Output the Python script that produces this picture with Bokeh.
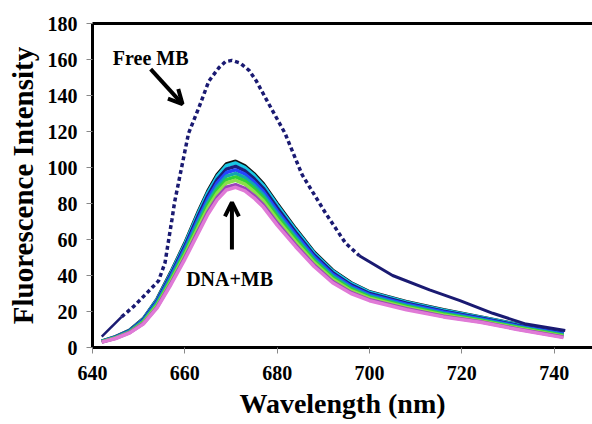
from bokeh.plotting import figure
from bokeh.models import (Range1d, LinearAxis, FixedTicker, Arrow, OpenHead,
                          Label)
from bokeh.embed import file_html
from bokeh.resources import INLINE

# ---------------- data ----------------
free_x = [642, 646.3, 649, 651.3, 654.3, 655.7, 657.2, 657.8, 660.8, 663, 665.2,
          667.4, 668.8, 670.2, 672, 673.9, 675.5, 677.4, 681.7, 685.4, 690.4,
          694.8, 697.8, 705, 713, 719.6, 726.7, 733.9, 742.4]
free_y = [6, 17, 23, 29, 37, 47, 71, 81, 119, 133, 148, 155.5, 158.8, 159.5,
          158, 154, 148, 139, 119, 96, 75, 58, 51, 40, 32, 26, 19, 13, 9.5]

dna_x = [642, 645, 648, 651, 654, 657, 660, 663, 665, 667, 669, 671, 673, 675,
         677, 680, 684, 688, 692, 696, 700, 708, 716, 724, 732, 742]
dna_1 = [3.5, 6, 9.5, 16, 27, 42, 58, 76, 87, 96, 102, 103.5, 101, 96.5, 91, 80,
         66, 53, 43, 36, 31, 25.5, 21, 17, 13, 8.5]
dna_2 = [3.5, 5.9, 9.4, 15.8, 26.7, 41.5, 57.4, 75.2, 86.1, 95, 101, 102.5, 100,
         95.6, 90.1, 79.2, 65.3, 52.4, 42.5, 35.6, 30.7, 25.2, 20.7, 16.8, 12.8,
         8.3]
dna_3 = [3.4, 5.8, 9.2, 15.4, 26, 40.6, 56.2, 73.6, 84.4, 93.2, 99.1, 100.6,
         98.2, 93.8, 88.4, 77.6, 64, 51.4, 41.6, 34.8, 30, 24.6, 20.2, 16.4,
         12.4, 7.9]
dna_4 = [3.3, 5.7, 9, 15, 25.4, 39.7, 55, 72, 82.7, 91.4, 97.2, 98.7, 96.4, 92,
         86.7, 76, 62.7, 50.4, 40.7, 34, 29.4, 24, 19.7, 16, 12, 7.5]
dna_5 = [3.3, 5.5, 8.8, 14.6, 24.7, 38.7, 53.8, 70.4, 80.9, 89.4, 95.2, 96.7,
         94.4, 90.2, 84.9, 74.4, 61.3, 49.2, 39.7, 33.2, 28.7, 23.4, 19.1, 15.6,
         11.6, 7.1]
dna_6 = [3.2, 5.4, 8.6, 14.2, 24, 37.8, 52.6, 68.8, 79.2, 87.6, 93.3, 94.8,
         92.6, 88.4, 83.2, 72.8, 60, 48.2, 38.8, 32.4, 28, 22.8, 18.6, 15.2,
         11.2, 6.7]
dna_7 = [3.1, 5.3, 8.4, 13.8, 23.4, 36.9, 51.4, 67.2, 77.5, 85.8, 91.4, 92.9,
         90.8, 86.6, 81.5, 71.2, 58.7, 47.2, 37.9, 31.6, 27.4, 22.2, 18.1, 14.8,
         10.8, 6.3]
dna_8 = [3, 5.1, 8.2, 13.3, 22.5, 35.7, 49.9, 65.2, 75.3, 83.4, 89, 90.5, 88.4,
         84.4, 79.3, 69.2, 57, 45.8, 36.7, 30.6, 26.5, 21.5, 17.4, 14.3, 10.3,
         5.8]
dna_9 = [3, 5, 8, 13, 22, 35, 49, 64, 74, 82, 87.5, 89, 87, 83, 78, 68, 56, 45,
         36, 30, 26, 21, 17, 14, 10, 5.5]
dna_series = [dna_1, dna_2, dna_3, dna_4, dna_5, dna_6, dna_7, dna_8, dna_9]
dna_colors = ["#111111", "#19c8e6", "#1b1f7a", "#2446ff", "#12a6b0",
              "#2fd03a", "#8ae04a", "#9a46b8", "#e07ad6"]

x_ticks = [640, 660, 680, 700, 720, 740]
y_ticks = [0, 20, 40, 60, 80, 100, 120, 140, 160, 180]

FONT = "Liberation Serif"

p = figure(width=592, height=424, output_backend="svg", toolbar_location=None,
           x_range=Range1d(640, 748.3), y_range=Range1d(0, 180),
           min_border_left=92, min_border_right=0, min_border_top=23,
           min_border_bottom=77)
p.outline_line_color = None
p.grid.visible = False
p.background_fill_color = "white"
p.border_fill_color = "white"

for ys, c in zip(dna_series, dna_colors):
    p.line(dna_x, ys, line_color=c, line_width=3.5)

# Free MB: solid start, dashed middle, solid tail
free_col = "#1a1a72"
p.line(free_x[:2], free_y[:2], line_color=free_col, line_width=2.5)
p.line(free_x[1:23], free_y[1:23], line_color=free_col, line_width=3.5,
       line_dash="4 3")
p.line(free_x[22:], free_y[22:], line_color=free_col, line_width=3)

for ax in (p.xaxis[0], p.yaxis[0]):
    ax.axis_line_width = 3
    ax.axis_line_color = "black"
    ax.major_tick_line_color = "#888888"
    ax.major_tick_line_width = 1
    ax.major_tick_out = 6
    ax.major_tick_in = 0
    ax.minor_tick_line_color = None
    ax.major_label_text_font = FONT
    ax.major_label_text_font_style = "bold"
    ax.major_label_text_font_size = "20px"
    ax.major_label_text_color = "black"
    ax.axis_label_text_font = FONT
    ax.axis_label_text_font_style = "bold"
    ax.axis_label_text_color = "black"

p.xaxis[0].ticker = FixedTicker(ticks=x_ticks)
p.yaxis[0].ticker = FixedTicker(ticks=y_ticks)
p.xaxis[0].axis_label = "Wavelength (nm)"
p.xaxis[0].axis_label_text_font_size = "28px"
p.xaxis[0].major_label_standoff = 12
p.xaxis[0].axis_label_standoff = 5
p.yaxis[0].axis_label = "Fluorescence Intensity"
p.yaxis[0].axis_label_text_font_size = "29px"
p.yaxis[0].major_label_standoff = 9
p.yaxis[0].axis_label_standoff = 6

top = LinearAxis(ticker=FixedTicker(ticks=[]), axis_line_width=3,
                 axis_line_color="black", major_tick_line_color=None,
                 minor_tick_line_color=None, major_label_text_font_size="0px")
p.add_layout(top, "above")

p.add_layout(Label(x=652.6, y=161, text="Free MB", text_font=FONT,
                   text_font_style="bold", text_font_size="20px",
                   text_align="center", text_baseline="alphabetic",
                   text_color="black"))
p.add_layout(Label(x=669.7, y=38.3, text="DNA+MB", text_font=FONT,
                   text_font_style="bold", text_font_size="20px",
                   text_align="center", text_baseline="alphabetic",
                   text_color="black"))
p.add_layout(Arrow(x_start=652.6, y_start=154.6, x_end=659.5, y_end=135.2,
                   line_width=4, line_color="black",
                   end=OpenHead(size=14, line_width=4, line_color="black")))
p.add_layout(Arrow(x_start=670.2, y_start=54.4, x_end=670.2, y_end=80.6,
                   line_width=4, line_color="black",
                   end=OpenHead(size=14, line_width=4, line_color="black")))

open("out.html", "w").write(file_html(p, INLINE))
